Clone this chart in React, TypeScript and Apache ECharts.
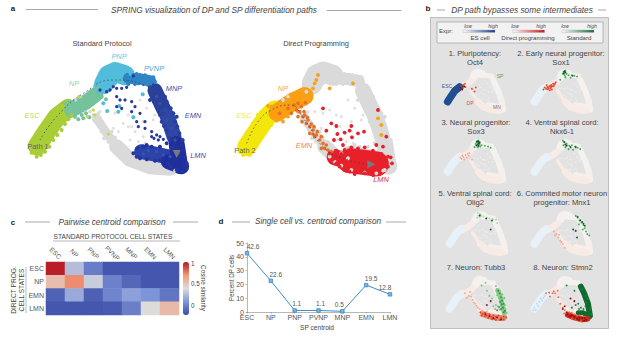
import React, { useEffect, useRef } from "react";
import * as echarts from "echarts";

const FONT = '"Liberation Sans", Arial, sans-serif';

// ---------- panel c ----------
const heatCols = ["ESC", "NP", "PNP", "PVNP", "MNP", "EMN", "LMN"];
const heatRows = ["ESC", "NP", "EMN", "LMN"];
const heatEsc = [0.98, 0.24, -0.04, -0.2, -0.2, -0.2, -0.2];
const heatNp = [0.52, 0.72, 0.31, -0.02, -0.13, -0.2, -0.2];
const heatEmn = [-0.15, 0.15, -0.16, -0.01, 0.11, 0.06, -0.07];
const heatLmn = [-0.2, -0.2, -0.2, -0.18, -0.03, 0.38, 0.54];
const heatMatrix = [heatEsc, heatNp, heatEmn, heatLmn];

// ---------- panel d ----------
const lineCats = ["ESC", "NP", "PNP", "PVNP", "MNP", "EMN", "LMN"];
const lineVals = [42.6, 22.6, 1.1, 1.1, 0.5, 19.5, 12.8];
const lineLabelShift = [6, 5, 2, 2, -3, 5, -5];

// ---------- embedding: shared SPRING layout ----------
const bandEsc = [[112, 438], [140, 395], [170, 352], [205, 325]];
const bandNp = [[215, 330], [260, 305], [288, 283]];
const bandPnp = [[312, 252], [325, 225], [345, 216], [375, 226]];
const bandPvnp = [[385, 235], [420, 237], [452, 243]];
const bandMnp = [[465, 272], [478, 300], [492, 330]];
const bandEmn = [[500, 345], [510, 372], [522, 410]];
const bandLmnV = [[530, 432], [540, 498]];
const bandLmnH = [[425, 455], [470, 463], [525, 475]];
const bandLmnBlob = [[505, 485], [545, 500]];
const bandGrayThin = [[290, 355], [320, 400], [350, 440]];
const bandGrayWide = [[350, 440], [390, 478], [450, 500], [510, 505]];

const grayInner = [[370, 370], [385, 380], [340, 385], [355, 395], [405, 395], [430, 410], [390, 420], [415, 425], [435, 430], [460, 360], [320, 335], [345, 340], [365, 330], [385, 345], [400, 350], [430, 365], [395, 380], [300, 335], [420, 300], [440, 325], [465, 345]];
const grayEdge = [[280, 345], [298, 372], [282, 360], [305, 395], [335, 395], [312, 415], [340, 445], [325, 425], [365, 470], [380, 485], [400, 497], [430, 510], [470, 518], [505, 520], [360, 430], [372, 450], [345, 412], [525, 512], [295, 340], [270, 335], [225, 300], [240, 290]];

// ---------- panel a, left ----------
const aEscDots = [[95, 445], [92, 430], [100, 420], [108, 405], [115, 395], [125, 380], [130, 375], [140, 362], [150, 345], [160, 335], [170, 325], [185, 312], [95, 458], [110, 470], [122, 465], [135, 455], [148, 440], [160, 420], [172, 405], [185, 390], [195, 372], [205, 358], [215, 345]];
const aNpDots = [[195, 310], [208, 305], [220, 305], [233, 312], [245, 300], [252, 290], [260, 285], [270, 278], [280, 270], [292, 266], [225, 350], [235, 358], [245, 345], [258, 340], [265, 320], [275, 312], [285, 300], [298, 290], [250, 355], [268, 352], [318, 298], [305, 290]];
const aYellowDots = [[237, 290], [325, 402], [285, 345], [280, 330], [262, 350]];
const aPnpDots = [[320, 205], [335, 200], [350, 196], [362, 205], [370, 200], [385, 212], [392, 222], [300, 255], [295, 275], [315, 205], [308, 225], [300, 240], [330, 262], [345, 250], [360, 245], [428, 283], [400, 352], [310, 310], [322, 333], [355, 335], [358, 318], [318, 245]];
const aPvnpDots = [[400, 225], [410, 222], [420, 225], [435, 226], [445, 230], [460, 232], [465, 245], [430, 252], [405, 252], [385, 252], [450, 255], [378, 240], [415, 250]];
const aMnpDots = [[450, 262], [455, 285], [450, 300], [470, 260], [482, 275], [495, 290], [500, 305], [505, 320], [490, 340], [470, 320], [462, 305], [480, 345], [512, 325], [520, 340], [485, 365], [492, 378], [500, 392], [532, 380], [538, 400], [548, 420], [510, 415], [465, 285], [475, 330], [525, 365], [530, 350]];
const aLmnDots = [[400, 460], [412, 445], [420, 475], [440, 435], [455, 440], [480, 440], [500, 430], [515, 420], [555, 500], [560, 490], [548, 515], [530, 510], [480, 480], [465, 482], [440, 478], [550, 450], [553, 470], [515, 445], [505, 490], [512, 500], [520, 440], [430, 440], [410, 470], [545, 435], [560, 505]];
const aLmnLight = [[445, 452], [470, 455], [490, 465], [430, 462], [510, 470], [525, 420], [515, 385], [500, 360], [480, 310], [470, 290], [535, 460]];
const aNavyDots = [[395, 305], [405, 320], [395, 335], [420, 340], [410, 365], [435, 365], [415, 380], [435, 385], [455, 395], [470, 405], [480, 410], [455, 410], [475, 420], [350, 265], [340, 260], [330, 270], [350, 290], [360, 300], [375, 300], [350, 320], [365, 325], [320, 275], [300, 270], [400, 228], [380, 262], [365, 265], [462, 415], [490, 418]];
const aPath = [[120, 420], [170, 350], [250, 280], [340, 240], [420, 250], [490, 330], [530, 445]];
const aArrow = [[530, 462]];

// ---------- panel a, right ----------
const bandRightEsc = [[116, 440], [146, 395], [176, 352], [200, 330]];
const bandRightNp = [[208, 338], [250, 308], [290, 288]];
const bandRightLmnThin = [[380, 472], [410, 480]];
const bandRightLmn = [[425, 482], [460, 486], [505, 492]];
const rYellowDots = [[95, 455], [100, 435], [105, 420], [118, 395], [135, 370], [150, 345], [175, 325], [190, 375], [170, 400], [145, 440], [125, 465], [105, 465]];
const rOrangeDots = [[190, 320], [215, 305], [240, 300], [260, 280], [275, 272], [285, 270], [300, 290], [295, 310], [225, 365], [240, 350], [270, 335], [320, 250], [330, 225], [325, 240], [315, 265], [510, 355], [520, 375], [520, 405], [435, 250], [365, 265], [205, 362], [248, 283], [290, 300], [180, 318]];
const rDarkOrangeDots = [[250, 340], [240, 325], [270, 310], [292, 308], [215, 340], [275, 335], [285, 350], [295, 370], [305, 380], [315, 390], [305, 400], [325, 405], [335, 420], [345, 430], [355, 435], [340, 445], [360, 450], [370, 455], [300, 360], [290, 345], [320, 410], [280, 320], [270, 350], [310, 372], [288, 335], [298, 352], [282, 365], [318, 380], [328, 395], [340, 410], [315, 402], [350, 445], [265, 330], [258, 315]];
const rRedDots = [[345, 325], [510, 330], [370, 370], [385, 378], [355, 392], [388, 402], [410, 398], [430, 378], [425, 392], [450, 400], [468, 395], [432, 412], [398, 418], [378, 420], [405, 435], [535, 410], [365, 460], [385, 452], [410, 450], [430, 442], [450, 445], [470, 442], [495, 452], [520, 462], [540, 470], [552, 490], [540, 500], [515, 510], [495, 525], [470, 520], [440, 522], [410, 510], [385, 490], [375, 478], [505, 435], [525, 440], [400, 462], [420, 460], [395, 500], [425, 515], [455, 460], [480, 512], [530, 480], [525, 495], [505, 465], [548, 472]];
const rPath = [[116, 430], [150, 365], [190, 330], [245, 315], [290, 360], [350, 445], [420, 480], [480, 493]];
const rArrow = [[490, 493]];

// ---------- panel b: expression per gene ----------
const p1Blue = [[112, 438], [140, 395], [170, 352], [205, 325]];
const p1Red = [[215, 320], [235, 310], [250, 325], [230, 335], [245, 300], [300, 340], [330, 330], [320, 360]];
const p1Dark = [[210, 330], [225, 345], [240, 322]];
const p2Red = [[190, 330], [210, 325], [225, 320], [240, 310], [255, 300], [270, 300], [215, 345], [235, 335], [250, 320], [200, 340], [230, 350], [260, 320], [275, 290], [245, 345], [205, 310], [180, 345], [220, 335], [240, 325], [262, 308], [235, 318], [215, 332]];
const p2Green = [[335, 210], [345, 215], [350, 200], [330, 225], [360, 225], [375, 235], [400, 235], [420, 240], [440, 245], [310, 270], [350, 250], [390, 255], [345, 235]];
const p2Dark = [[342, 205], [350, 212], [338, 222], [405, 240]];
const p3Green = [[335, 210], [345, 215], [350, 200], [330, 225], [360, 225], [375, 235], [400, 240], [425, 245], [320, 250], [345, 250], [365, 245], [355, 235], [445, 255]];
const p3Dark = [[340, 205], [350, 208], [355, 220], [345, 228], [335, 238], [350, 240], [360, 212]];
const p3Pale = [[220, 340], [235, 325], [250, 310], [265, 300], [280, 295], [240, 345], [260, 330], [225, 315], [275, 315], [210, 330], [300, 345]];
const p4Green = [[330, 200], [345, 215], [360, 225], [335, 235], [380, 240], [400, 235], [425, 245], [445, 255], [465, 265], [350, 250], [375, 265], [410, 270]];
const p4Dark = [[340, 210], [360, 240], [390, 250], [430, 250], [350, 230]];
const p5Green = [[330, 200], [345, 210], [335, 225], [355, 225], [325, 240], [375, 230], [400, 240], [420, 245], [445, 250], [470, 255], [480, 280], [350, 215], [345, 235]];
const p5Dark = [[345, 222], [395, 245], [440, 260], [430, 330]];
const p6Green = [[430, 225], [445, 240], [460, 260], [475, 275], [490, 295], [500, 320], [510, 345], [520, 365], [455, 290], [535, 375], [485, 330]];
const p6Dark = [[445, 232], [465, 258], [480, 272], [490, 285], [500, 300], [430, 340], [440, 390], [410, 330]];
const p6Red = [[262, 345], [280, 365], [295, 390], [310, 415], [330, 440], [345, 470], [270, 375], [300, 370], [320, 425]];
const p7GreenBand = [[485, 300], [505, 350], [520, 405], [535, 470]];
const p7GreenDots = [[400, 300], [420, 340], [440, 360], [360, 260], [390, 240], [470, 265], [450, 420], [550, 500], [500, 300], [475, 290], [490, 310], [515, 330], [535, 360], [540, 410], [545, 440], [555, 470], [480, 335], [495, 360], [500, 390], [510, 415], [525, 445], [535, 470], [500, 445], [485, 420], [465, 440], [545, 490], [520, 330], [535, 355], [470, 410]];
const p7GreenMid = [[488, 300], [500, 322], [510, 350], [518, 375], [530, 400], [515, 405], [525, 430], [540, 455], [510, 440], [495, 425], [480, 450], [530, 465], [505, 385]];
const p7RedBand = [[370, 480], [430, 500], [500, 510], [530, 510]];
const p7RedDots = [[260, 340], [290, 370], [310, 400], [330, 430], [230, 320], [270, 310], [245, 355], [345, 440], [365, 450], [400, 460], [440, 480], [350, 490], [280, 345], [300, 390], [320, 415]];
const p7RedMid = [[350, 465], [368, 478], [385, 470], [400, 490], [420, 480], [435, 500], [450, 490], [470, 500], [490, 490], [510, 505], [530, 500], [385, 495], [410, 510], [440, 518], [470, 525], [500, 525], [530, 520], [360, 490], [550, 505], [460, 515]];
const p7Dark = [[420, 495], [450, 510], [480, 505], [510, 520], [390, 480], [430, 380], [400, 410]];
const p8GreenBand = [[470, 270], [495, 320], [525, 400], [540, 490]];
const p8GreenBand2 = [[450, 470], [490, 470], [540, 500]];
const p8GreenDots = [[420, 300], [400, 430], [430, 410], [360, 260], [450, 400], [470, 430], [455, 440], [510, 340], [480, 290], [520, 360], [545, 440], [550, 480], [490, 440], [505, 420], [510, 390]];
const p8RedBand = [[370, 485], [420, 505], [480, 520], [520, 515]];
const p8RedDots = [[200, 320], [225, 315], [250, 320], [270, 320], [295, 350], [310, 400], [330, 430], [230, 345], [260, 305], [290, 300], [345, 450], [360, 470], [400, 470], [440, 490], [340, 475], [380, 465], [420, 480], [460, 490], [500, 500], [470, 535], [430, 525], [400, 515]];
const p8Dark = [[330, 440], [360, 465], [400, 490], [440, 515], [480, 510], [510, 525], [420, 380], [390, 360], [345, 420], [365, 480], [385, 495], [420, 500], [460, 505], [455, 525], [495, 530], [500, 510]];
const p8BlueDots = [[110, 430], [130, 400], [160, 360], [190, 340], [120, 450], [150, 385], [140, 420], [170, 375], [180, 355], [100, 450]];

const smallTitles = [
  ["1. Pluripotency:", "Oct4"],
  ["2. Early neural progenitor:", "Sox1"],
  ["3. Neural progenitor:", "Sox3"],
  ["4. Ventral spinal cord:", "Nkx6-1"],
  ["5. Ventral spinal cord:", "Olig2"],
  ["6. Commited motor neuron", "progenitor: Mnx1"],
  ["7. Neuron: Tubb3"],
  ["8. Neuron: Stmn2"],
];

const RED = "#e8432a", PALE_RED = "#f6a994", DARK_RED = "#7a120c";
const GREEN = "#4aa85c", PALE_GREEN = "#aadcaa", DARK_GREEN = "#0a5a2a";
const smallMarks: any[] = [
  { bands: [[p1Blue, "#1f4f90", 7.5]], dots: [[p1Red, RED], [p1Dark, DARK_RED]] },
  { bands: [], dots: [[p2Red, RED], [p2Green, GREEN], [p2Dark, DARK_GREEN]] },
  { bands: [], dots: [[p3Pale, PALE_RED], [p3Green, GREEN], [p3Dark, DARK_GREEN]] },
  { bands: [], dots: [[p4Green, GREEN], [p4Dark, DARK_GREEN]] },
  { bands: [], dots: [[p5Green, PALE_GREEN], [p5Dark, DARK_GREEN]] },
  { bands: [], dots: [[p6Red, PALE_RED], [p6Green, GREEN], [p6Dark, DARK_GREEN]] },
  { bands: [[p7GreenBand, "#8ccc8c", 5], [p7RedBand, "#ee8a70", 6]], dots: [[p7RedDots, PALE_RED], [p7GreenDots, "#7cc47c"], [p7GreenMid, "#2f8f48"], [p7RedMid, "#e0402a"], [p7Dark, DARK_RED]] },
  { bands: [[p8GreenBand, "#0f6b30", 6], [p8GreenBand2, "#0f6b30", 5], [p8RedBand, "#d0281a", 6]], dots: [[p8BlueDots, "#c0d8ee"], [p8RedDots, "#ee6a4c"], [p8GreenDots, "#1f7f40"], [p8Dark, DARK_RED]] },
];

const smallPos = [
  [444, 68], [531, 68],
  [444, 138], [531, 138],
  [446, 210], [531, 210],
  [446, 275], [531, 275],
];

function App() {
  const ref = useRef<HTMLDivElement>(null);
  useEffect(() => {
    const chart = echarts.init(ref.current!, undefined, { renderer: "svg" });

    const grids: any[] = [];
    const xAxes: any[] = [];
    const yAxes: any[] = [];
    const series: any[] = [];

    const addEmbed = (left: number, top: number, width: number, height: number) => {
      const i = grids.length;
      grids.push({ left, top, width, height, show: false });
      xAxes.push({ gridIndex: i, type: "value", min: 84, max: 564, show: false });
      yAxes.push({ gridIndex: i, type: "value", min: 180, max: 540, inverse: true, show: false });
      return i;
    };
    const band = (g: number, data: number[][], color: string, width: number, z = 2) =>
      series.push({
        type: "line", xAxisIndex: g, yAxisIndex: g, data, showSymbol: false, symbol: "none", clip: false, silent: true, z,
        lineStyle: { color, width, cap: "round", join: "round" },
      });
    const dots = (g: number, data: number[][], color: string, size: number, z = 3, symbol = "circle", rot = 0) =>
      series.push({
        type: "scatter", xAxisIndex: g, yAxisIndex: g, data, symbol, symbolSize: size, symbolRotate: rot, clip: false, silent: true, z,
        itemStyle: { color, opacity: 1 },
      });
    const dashed = (g: number, data: number[][]) =>
      series.push({
        type: "line", xAxisIndex: g, yAxisIndex: g, data, showSymbol: false, symbol: "none", clip: false, silent: true, z: 5, smooth: true,
        lineStyle: { color: "#444", width: 0.8, type: [1.5, 2.5] },
      });

    const grayBands = (g: number, c = "#dadada") => {
      [[bandPnp, 21], [bandPvnp, 12], [bandMnp, 16], [bandEmn, 16], [bandLmnV, 17], [bandLmnH, 12], [bandLmnBlob, 15], [bandGrayThin, 9], [bandGrayWide, 15]].forEach(([d, w]: any) =>
        band(g, d, c, w));
      dots(g, grayEdge, c, 3.8);
      dots(g, aPnpDots.slice(0, 14), c, 4);
      dots(g, aPvnpDots, c, 4);
      dots(g, aMnpDots, c, 4);
      dots(g, aLmnDots.slice(0, 12), c, 4);
    };

    // a, left
    const a1 = addEmbed(28, 60, 160, 120);
    band(a1, bandGrayThin, "#dadada", 9);
    band(a1, bandGrayWide, "#dadada", 15);
    dots(a1, grayEdge, "#dadada", 3.8);
    dots(a1, grayInner, "#e0e0e0", 3);
    band(a1, bandEsc, "#a9cd36", 19);
    dots(a1, aEscDots, "#a9cd36", 4);
    band(a1, bandNp, "#74c39c", 15);
    dots(a1, aNpDots, "#74c39c", 4);
    band(a1, bandPnp, "#52bcdc", 20);
    dots(a1, aPnpDots, "#52bcdc", 4);
    band(a1, bandPvnp, "#2f84c6", 11);
    dots(a1, aPvnpDots, "#2f84c6", 4);
    band(a1, bandMnp, "#2b3f9c", 15);
    dots(a1, aMnpDots, "#2b3f9c", 4);
    band(a1, bandEmn, "#2e48a8", 15);
    band(a1, bandLmnH, "#2c43a8", 15);
    band(a1, bandLmnV, "#1f2f9c", 16);
    band(a1, bandLmnBlob, "#1f2f9c", 15);
    dots(a1, aLmnDots, "#24359f", 4);
    dots(a1, aLmnLight, "#3b52b4", 3.2);
    dots(a1, aNavyDots, "#2a3a9a", 3.2);
    dots(a1, aYellowDots, "#c8d84a", 3.2);
    dashed(a1, aPath);
    dots(a1, aArrow, "#7a7a7a", 8, 6, "triangle", 180);

    // a, right
    const a2 = addEmbed(236, 60, 160, 120);
    grayBands(a2);
    dots(a2, grayInner, "#e0e0e0", 3);
    band(a2, bandRightEsc, "#f3e60a", 19);
    dots(a2, rYellowDots, "#f3e60a", 4);
    band(a2, bandRightNp, "#fb9e10", 18);
    dots(a2, rOrangeDots, "#f6a21c", 3.8);
    dots(a2, rDarkOrangeDots, "#e4702a", 3.6);
    band(a2, bandRightLmnThin, "#e8202a", 16);
    band(a2, bandRightLmn, "#e8202a", 25);
    dots(a2, rRedDots, "#e4222c", 3.8);
    dashed(a2, rPath);
    dots(a2, rArrow, "#7a7a7a", 8, 6, "triangle", -90);

    // b: eight small maps
    smallPos.forEach(([l, t], k) => {
      const g = addEmbed(l, t, 62, 47);
      const sp = "#f4f1ef", dp = "#f8ebe6", es = "#e9f1f8";
      band(g, bandPnp, sp, 8); band(g, bandPvnp, sp, 5); band(g, bandMnp, sp, 6); band(g, bandEmn, sp, 6);
      band(g, bandLmnV, "#f6efeb", 6.5); band(g, bandLmnH, "#f6efeb", 4);
      band(g, bandGrayThin, dp, 3.5); band(g, bandGrayWide, dp, 7);
      band(g, bandNp, dp, 6.5);
      band(g, bandEsc, es, 8);
      dots(g, grayInner, "#eeeeee", 1.4);
      smallMarks[k].bands.forEach((b: any) => band(g, b[0], b[1], b[2]));
      smallMarks[k].dots.forEach((d: any) => dots(g, d[0], d[1], 1.8));
    });

    // c: heatmap
    const hg = grids.length;
    grids.push({ left: 46, top: 262, width: 133, height: 53, show: false });
    xAxes.push({
      gridIndex: hg, type: "category", data: heatCols, position: "top",
      axisLine: { show: false }, axisTick: { show: false }, splitLine: { show: false },
      axisLabel: { rotate: 45, fontSize: 6.5, color: "#555", margin: 9, fontFamily: FONT, interval: 0, align: "center", verticalAlign: "middle" },
    });
    yAxes.push({
      gridIndex: hg, type: "category", data: heatRows, inverse: true,
      axisLine: { show: false }, axisTick: { show: false }, splitLine: { show: false },
      axisLabel: { fontSize: 7, color: "#555", margin: 2, fontFamily: FONT },
    });
    const heatIndex = series.length;
    series.push({
      type: "heatmap", xAxisIndex: hg, yAxisIndex: hg, silent: true,
      data: heatMatrix.flatMap((row, r) => row.map((v, c) => [c, r, v])),
    });

    // d: line
    const lg = grids.length;
    grids.push({ left: 247, top: 243, width: 143, height: 69, show: false });
    xAxes.push({
      gridIndex: lg, type: "category", data: lineCats, boundaryGap: false,
      axisLine: { lineStyle: { color: "#888", width: 0.6 } }, axisTick: { length: 1.5, lineStyle: { color: "#888", width: 0.6 } },
      axisLabel: { fontSize: 7, color: "#555", margin: 2, fontFamily: FONT, interval: 0 },
    });
    yAxes.push({
      gridIndex: lg, type: "value", min: 0, max: 50, interval: 10, splitLine: { show: false },
      axisLine: { show: true, lineStyle: { color: "#888", width: 0.6 } }, axisTick: { show: true, length: 1.5, lineStyle: { color: "#888", width: 0.6 } },
      axisLabel: { fontSize: 7, color: "#555", margin: 3, fontFamily: FONT },
    });
    series.push({
      type: "line", xAxisIndex: lg, yAxisIndex: lg, symbol: "rect", symbolSize: 3.5, showAllSymbol: true, silent: true,
      data: lineVals.map((value, i) => ({ value, label: { offset: [lineLabelShift[i], 0] } })),
      lineStyle: { color: "#3f8cc8", width: 1 },
      itemStyle: { color: "#7fb4dc", borderColor: "#2f7fc0", borderWidth: 0.7 },
      label: { show: true, position: "top", distance: 1, fontSize: 6.5, color: "#555", fontFamily: FONT },
    });

    // ---------- text and rules ----------
    const text = (x: number, y: number, t: string, o: any = {}) => ({
      type: "text", x, y, rotation: o.rotation || 0, z: 10, silent: true,
      style: {
        text: t, fill: o.fill || "#444", textAlign: o.align || "center", textVerticalAlign: "middle",
        font: `${o.style || "normal"} ${o.weight || "normal"} ${o.size || 7}px ${FONT}`,
      },
    });
    const rule = (x1: number, y1: number, x2: number, y2: number, c = "#a8a8a8", w = 1) => ({
      type: "line", z: 10, silent: true, shape: { x1, y1, x2, y2 }, style: { stroke: c, lineWidth: w },
    });
    const grad = (x: number, c: string) => ({
      type: "rect", z: 10, silent: true, shape: { x, y: 30, width: 32, height: 2.4 },
      style: {
        stroke: "#999", lineWidth: 0.3,
        fill: { type: "linear", x: 0, y: 0, x2: 1, y2: 0, colorStops: [{ offset: 0, color: "#ffffff" }, { offset: 1, color: c }] },
      },
    });

    const it = { style: "italic" };
    const elements: any[] = [
      { type: "rect", z: 0, silent: true, shape: { x: 430.5, y: 17.5, width: 178, height: 311 }, style: { fill: "#e2e2e2", stroke: "#bdbdbd", lineWidth: 1 } },
      { type: "rect", z: 1, silent: true, shape: { x: 437, y: 22, width: 166, height: 21 }, style: { fill: "#f2f2f2", stroke: "#a8a8a8", lineWidth: 0.8 } },

      text(13, 8, "a", { weight: "bold", size: 8, fill: "#222" }),
      rule(26, 9.5, 98, 9.5),
      rule(327, 10.5, 401, 10.5),
      text(214, 10, "SPRING visualization of DP and SP differentiation paths", { ...it, size: 8.3 }),
      text(102, 43, "Standard Protocol", { size: 7.4 }),
      text(316, 43, "Direct Programming", { size: 7.4 }),
      text(32, 115, "ESC", { ...it, fill: "#bcd65a", size: 7.4 }),
      text(74, 83, "NP", { ...it, fill: "#94d4ae", size: 7.4 }),
      text(119, 56, "PNP", { ...it, fill: "#62c8e2", size: 7.4 }),
      text(154, 68, "PVNP", { ...it, fill: "#4ea5dc", size: 7.4 }),
      text(174, 88, "MNP", { ...it, fill: "#3f50a8", size: 7.4 }),
      text(193, 115, "EMN", { ...it, fill: "#3f50a8", size: 7.4 }),
      text(198, 155, "LMN", { ...it, fill: "#3f50a8", size: 7.4 }),
      text(38, 146, "Path 1", { fill: "#666", size: 7.4 }),
      text(244, 115, "ESC", { ...it, fill: "#f2e84a", size: 7.4 }),
      text(283, 88, "NP", { ...it, fill: "#f7ac3c", size: 7.4 }),
      text(304, 145, "EMN", { ...it, fill: "#ee8a52", size: 7.4 }),
      text(381, 179, "LMN", { ...it, fill: "#e4323a", size: 7.4 }),
      text(245, 150, "Path 2", { fill: "#666", size: 7.4 }),

      text(428, 8, "b", { weight: "bold", size: 8, fill: "#222" }),
      rule(437, 10, 445, 10),
      rule(598, 10, 606, 10),
      text(522, 10, "DP path bypasses some intermediates", { ...it, size: 8.3 }),
      text(446, 30.5, "Expr:", { size: 6 }),
      grad(463, "#1a3a8c"), grad(512.5, "#c8141c"), grad(562, "#0f6b30"),
      text(468, 26, "low", { ...it, size: 5 }),
      text(493, 26, "high", { ...it, size: 5 }),
      text(515, 26, "low", { ...it, size: 5 }),
      text(541, 26, "high", { ...it, size: 5 }),
      text(565, 26, "low", { ...it, size: 5 }),
      text(592, 26, "high", { ...it, size: 5 }),
      text(480, 37.5, "ES cell", { size: 6.1 }),
      text(528, 37.5, "Direct programming", { size: 6.1 }),
      text(579, 37.5, "Standard", { size: 6.1 }),
      text(447, 86, "ESC", { size: 5, fill: "#3f5c9a" }),
      text(470, 103, "DP", { size: 5, fill: "#c8505a" }),
      text(500, 76, "SP", { size: 5, fill: "#5c9a6c" }),
      text(497, 107, "MN", { size: 5, fill: "#8a6a6a" }),

      text(13, 222, "c", { weight: "bold", size: 8, fill: "#222" }),
      rule(25, 222, 50, 222),
      rule(173, 222, 198, 222),
      text(112, 222, "Pairwise centroid comparison", { ...it, size: 8.2 }),
      text(113, 236, "STANDARD PROTOCOL CELL STATES", { size: 6.6 }),
      rule(53, 241, 180, 241, "#999", 0.7),
      rule(26, 267, 26, 313, "#aaa", 0.8),
      text(13, 290, "DIRECT PROG.", { size: 6.6, rotation: Math.PI / 2 }),
      text(21, 290, "CELL STATES", { size: 6.6, rotation: Math.PI / 2 }),
      text(191, 263, "1", { size: 6.3, align: "left" }),
      text(191, 283.5, "0.5", { size: 6.3, align: "left" }),
      text(191, 305, "0", { size: 6.3, align: "left" }),
      text(203, 288, "Cosine similarity", { size: 6.3, rotation: -Math.PI / 2 }),

      text(221, 221, "d", { weight: "bold", size: 8, fill: "#222" }),
      rule(232, 222, 250, 222),
      rule(386, 222, 406, 222),
      text(318, 221, "Single cell vs. centroid comparison", { ...it, size: 8.2 }),
      text(231, 278, "Percent DP cells", { size: 6.3, rotation: Math.PI / 2 }),
      text(317, 327, "SP centroid", { size: 6.6 }),
    ];

    const titleX = [475, 561, 476, 562, 475, 562, 476, 563];
    const titleY = [53, 53, 122, 122, 193, 193, 267, 267];
    smallTitles.forEach((lines, k) => {
      lines.forEach((t, j) => elements.push(text(titleX[k], titleY[k] + j * 9, t, { size: 7.6 })));
    });

    chart.setOption({
      animation: false,
      backgroundColor: "#ffffff",
      grid: grids,
      xAxis: xAxes,
      yAxis: yAxes,
      visualMap: {
        type: "continuous", seriesIndex: heatIndex, min: -0.25, max: 1, left: 183, top: 262, itemWidth: 6, itemHeight: 53,
        padding: 0, calculable: false, hoverLink: false, show: true,
        inRange: { color: ["#3a4aa6", "#7f95d8", "#dcdcdc", "#f39a78", "#b5141f"] },
      },
      graphic: { elements },
      series,
    });
    return () => chart.dispose();
  }, []);
  return <div ref={ref} style={{ position: "fixed", left: 0, top: 0, width: 617, height: 337 }} />;
}

export default App;
